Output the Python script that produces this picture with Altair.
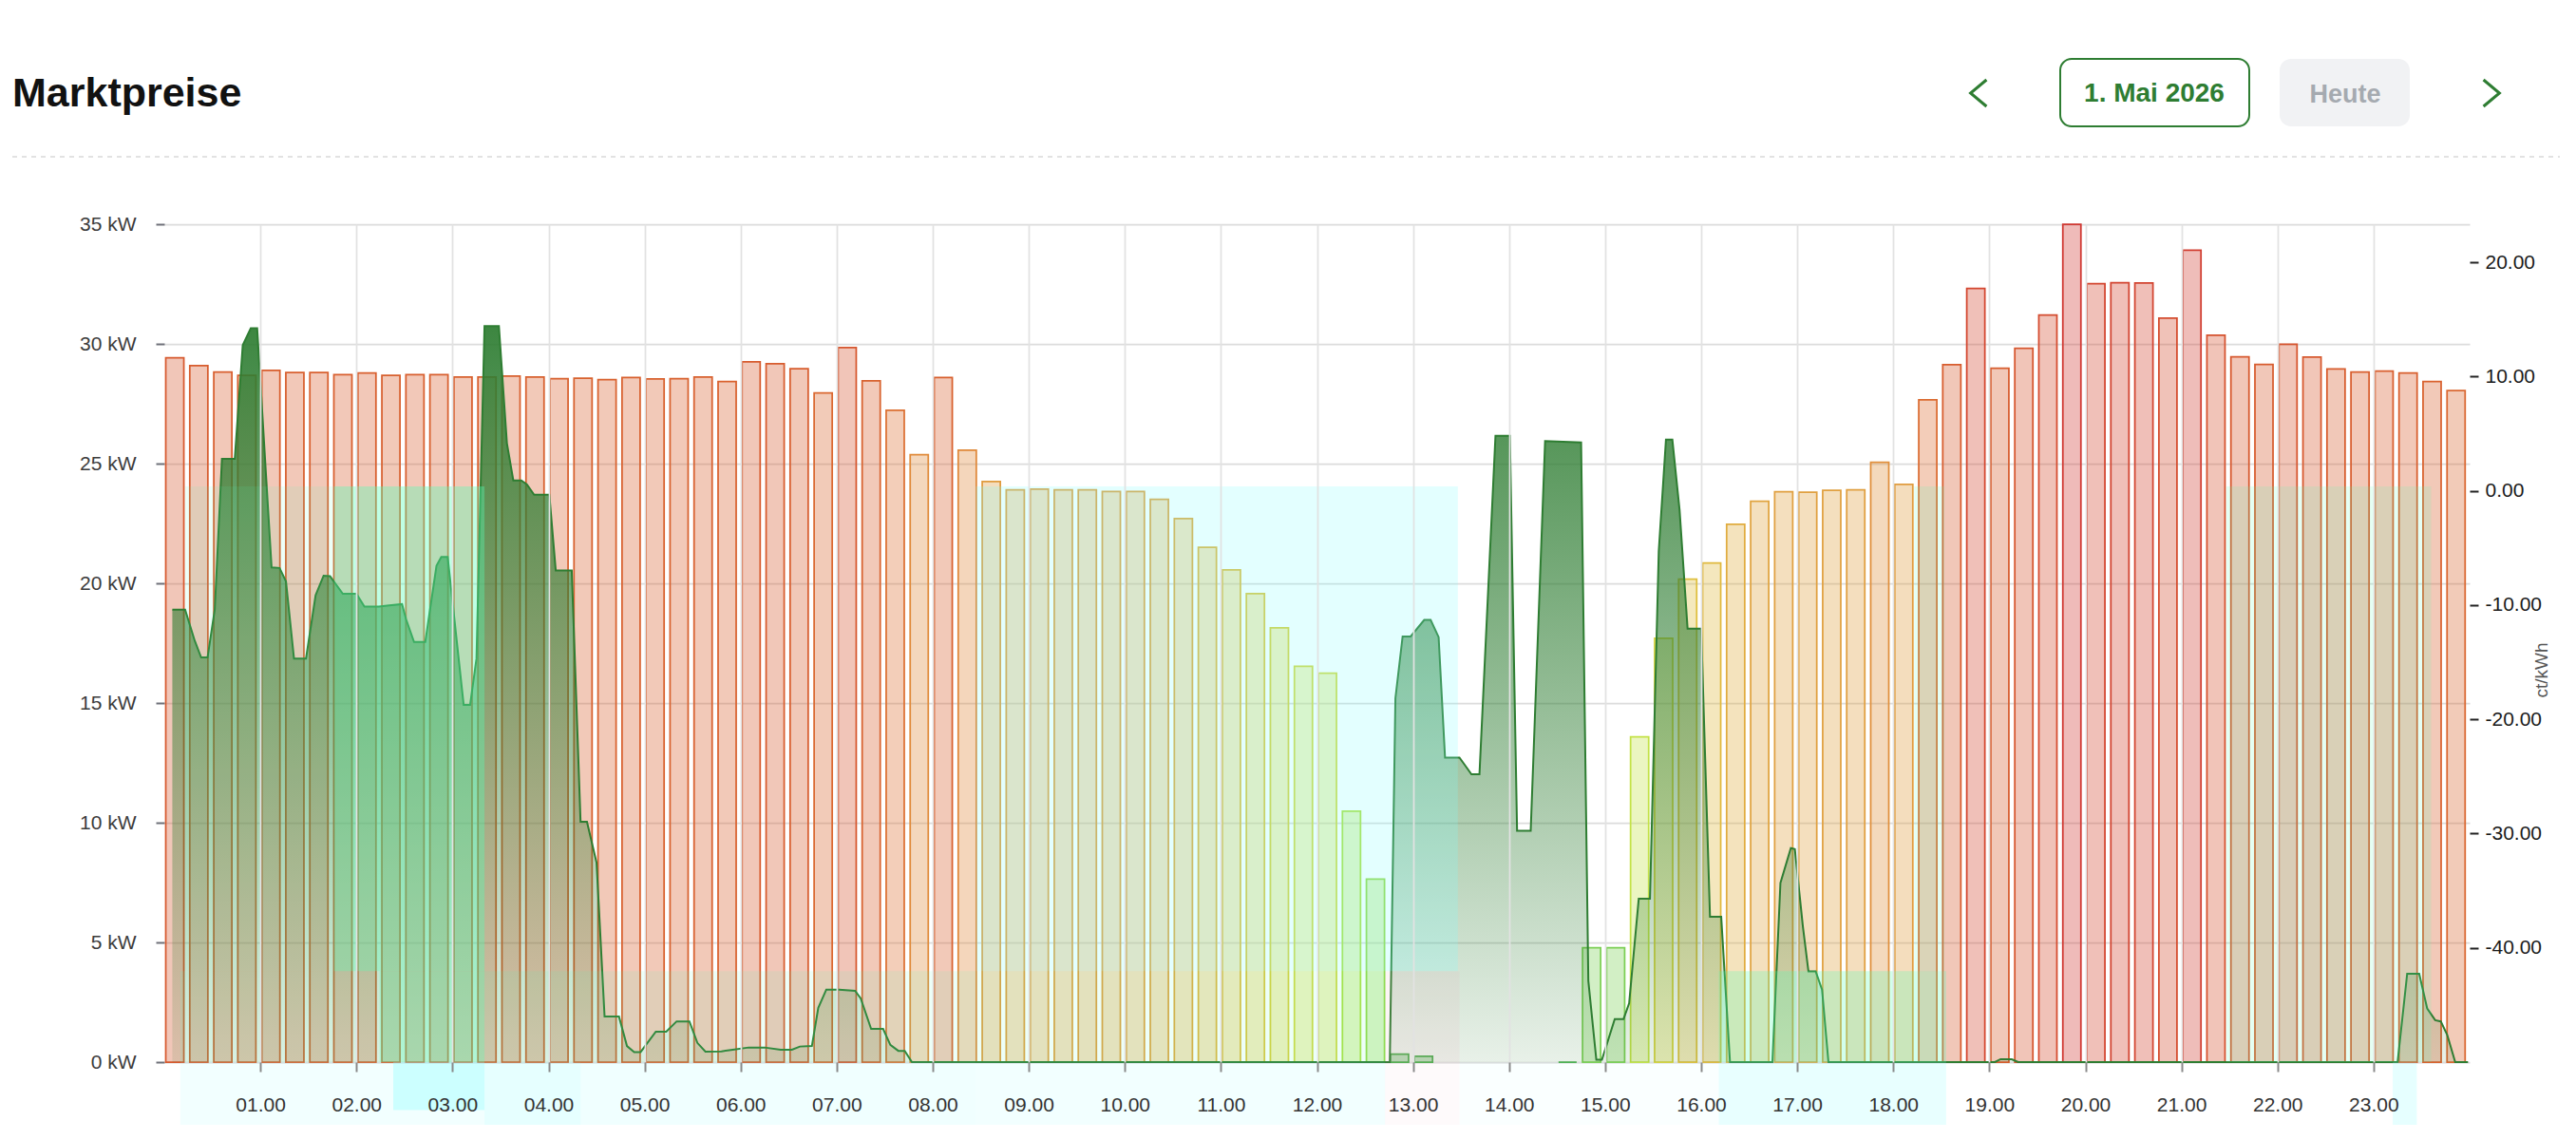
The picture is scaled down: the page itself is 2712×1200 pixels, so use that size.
import altair as alt
import pandas as pd

# ---------------- data ----------------
TITLE = "Marktpreise"
DATE_LABEL = "1. Mai 2026"
TODAY_LABEL = "Heute"

# quarter-hour market prices in ct/kWh (None = no visible bar)
prices = [11.65, 10.96, 10.40, 10.10, 10.54, 10.35, 10.35, 10.18,
          10.32, 10.10, 10.18, 10.18, 9.96, 9.96, 10.04, 9.96,
          9.82, 9.85, 9.74, 9.93, 9.79, 9.82, 9.96, 9.57,
          11.30, 11.12, 10.70, 8.56, 12.55, 9.63, 7.06, 3.17,
          9.93, 3.57, 0.82, 0.08, 0.15, 0.08, 0.08, -0.05,
          -0.05, -0.75, -2.43, -4.94, -6.92, -9.00, -11.98, -15.36,
          -15.96, -28.04, -33.99, -49.30, -49.50, None, None, None,
          None, None, -50.00, -40.00, -40.00, -21.54, -12.90, -7.73,
          -6.31, -2.93, -0.91, -0.08, -0.12, 0.04, 0.08, 2.50,
          0.56, 7.96, 11.04, 17.71, 10.73, 12.48, 15.39, 23.34,
          18.13, 18.21, 18.19, 15.11, 21.07, 13.62, 11.73, 11.07,
          12.84, 11.70, 10.68, 10.40, 10.48, 10.32, 9.57, 8.77]

# power curve (minutes after midnight, kW)
power_min = [5, 13, 19, 23, 27, 31.5, 36, 44, 49, 54, 58, 67, 72, 76, 81, 88.5,
             94.5, 99.5, 103.5, 111.5, 120, 125, 134, 140.5, 148.5, 151, 156, 163,
             170, 173, 177, 187, 191, 195, 200, 209, 214, 218, 223, 226.5, 231,
             240.5, 244.5, 254.5, 260, 264, 270, 275, 284, 289, 293.5, 297.5, 307,
             313.5, 320, 328, 333, 338, 348, 355, 365, 375, 385, 392, 397, 404.5,
             408.5, 413.5, 421.5, 431.5, 435, 441.5, 449, 453.5, 458.5, 462.5, 467,
             765.5, 769, 773.5, 778.5, 787, 791, 796, 800, 809, 811.5, 816.5, 821.5,
             831.5, 840.5, 845, 853.5, 862.5, 885, 889.5, 894.5, 898, 906, 911.5,
             915, 921, 928, 933.5, 938, 942, 946.5, 951.5, 960, 965.5, 972.5, 978,
             1004.5, 1009.5, 1016, 1018.5, 1023.5, 1027, 1031.5, 1035.5, 1039.5,
             1143.5, 1147, 1154, 1158, 1395, 1401, 1408.5, 1413.5, 1418.5, 1422,
             1426, 1431, 1439]
power_kw = [18.9, 18.9, 17.6, 16.9, 16.9, 18.9, 25.2, 25.2, 29.95, 30.65, 30.65, 20.66,
            20.64, 20.08, 16.86, 16.86, 19.5, 20.32, 20.3, 19.56, 19.56, 19.03, 19.03,
            19.08, 19.13, 18.5, 17.55, 17.55, 20.73, 21.1, 21.1, 14.92, 14.92, 16.86,
            30.74, 30.74, 25.85, 24.3, 24.3, 24.13, 23.7, 23.7, 20.54, 20.54, 10.04,
            10.04, 8.33, 1.9, 1.9, 0.67, 0.42, 0.42, 1.27, 1.27, 1.7, 1.7, 0.8, 0.44,
            0.45, 0.52, 0.61, 0.61, 0.52, 0.52, 0.65, 0.67, 2.27, 3.03, 3.03, 2.98,
            2.66, 1.39, 1.39, 0.72, 0.47, 0.47, 0, 0, 15.2, 17.78, 17.78, 18.47, 18.47,
            17.75, 12.72, 12.72, 12.49, 12.02, 12.02, 26.16, 26.16, 9.66, 9.66, 25.94,
            25.88, 3.4, 0.1, 0.1, 1.8, 1.8, 2.46, 6.83, 6.83, 21.35, 26.0, 26.0, 23.07,
            18.11, 18.11, 6.07, 6.07, 0, 0, 7.48, 8.94, 8.9, 5.68, 3.79, 3.79, 3.03, 0,
            0, 0.12, 0.12, 0, 0, 3.69, 3.69, 2.24, 1.75, 1.7, 1.14, 0, 0]

# highlighted time windows (minutes), band, tint, strength
win_start = [13, 106, 507, 1093, 1288, 10, 134.5, 200, 762.5, 971,
             10, 143, 200, 260, 507, 762.5, 809, 971, 1392]
win_end = [106, 200, 808, 1112, 1416, 134.5, 200, 762.5, 809, 1113,
           200, 200, 260, 507, 762.5, 809, 971, 1113, 1407]
win_band = ["upper", "upper", "upper", "upper", "full", "lower", "lower", "lower", "lower", "lower",
            "label", "labeltop", "label", "label", "label", "label", "label", "label", "label"]
win_tint = ["mint", "mint", "cyan", "mint", "mint", "mint", "mint", "mint", "pink", "mint",
            "cyan", "cyan", "cyan", "cyan", "cyan", "pink", "cyan", "cyan", "cyan"]
win_alpha = [0.1, 0.37, 0.22, 0.15, 0.15, 0.1, 0.37, 0.1, 0.1, 0.26,
             0.1, 0.33, 0.2, 0.12, 0.1, 0.05, 0.04, 0.18, 0.2]

kw_ticks = [0, 5, 10, 15, 20, 25, 30, 35]
ct_ticks = [-40, -30, -20, -10, 0, 10, 20]
hour_ticks = list(range(60, 1440, 60))

price_stops = [-50, -40, -30, -20, -12, -6, 0, 3, 7, 10, 15, 23.4]
price_colors = ["#4caf50", "#7ccf55", "#a6e040", "#c9e24a", "#d8d03c", "#e0b83e",
                "#e0a040", "#e08c3a", "#dc7032", "#d8602e", "#d44c2e", "#d03832"]

assert len(prices) == 96 and len(power_min) == len(power_kw)
assert len(win_start) == len(win_end) == len(win_band) == len(win_tint) == len(win_alpha)

# ---------------- tables ----------------
df_bars = pd.DataFrame({"slot": list(range(96)), "price": prices})
df_pow = pd.DataFrame({"t": power_min, "kw": power_kw})
band_top = {"upper": 24.05, "lower": 3.8, "full": 24.05, "label": 0, "labeltop": 0}
band_bot = {"upper": 3.8, "lower": 0, "full": 0, "label": -3.4, "labeltop": -2.0}
tint_col = {"mint": "#51ffb6", "cyan": "#81fffe", "pink": "#e8a0b0"}
df_win = pd.DataFrame({
    "s": win_start, "e": win_end,
    "top": [band_top[b] for b in win_band], "bot": [band_bot[b] for b in win_band],
    "col": [tint_col[c] for c in win_tint], "op": win_alpha,
})

FONT = "Liberation Sans"
GREEN = "#2e7d32"

x_scale = alt.Scale(domain=[0, 1440], nice=False, zero=False)
kw_scale = alt.Scale(domain=[0, 35], nice=False, zero=False)
ct_scale = alt.Scale(domain=[-50, 23.34], nice=False, zero=False)
c_scale = alt.Scale(domain=price_stops, range=price_colors, interpolate="rgb")

x_axis = alt.Axis(values=hour_ticks, title=None,
                  labelExpr="(datum.value < 600 ? '0' : '') + (datum.value / 60) + '.00'",
                  grid=True, gridColor="#e2e2e2", gridWidth=1.75, domain=False,
                  tickSize=10, tickColor="#8a8a8a", tickWidth=2, labelFontSize=21,
                  labelColor="#333333", labelPadding=24, labelFont=FONT, labelFlush=False,
                  zindex=1)
kw_axis = alt.Axis(orient="left", values=kw_ticks, title=None, labelExpr="datum.value + ' kW'",
                   grid=True, gridColor="#dcdcdc", gridWidth=1.75, domain=False,
                   tickSize=9, tickColor="#6e7079", tickWidth=2, labelFontSize=21,
                   labelColor="#3c3c3c", labelPadding=21, labelFont=FONT, labelFlush=False)
ct_axis = alt.Axis(orient="right", values=ct_ticks, title="ct/kWh",
                   labelExpr="replace(format(datum.value, '.2f'), '\u2212', '-')",
                   titleAngle=270, titleFontSize=19, titleFontWeight="normal", titleColor="#555555",
                   titleFont=FONT, titleX=75, titleY=469, titleAlign="center", titleBaseline="middle",
                   grid=False, domain=False,
                   tickSize=9, tickColor="#222222", tickWidth=2, labelFontSize=21,
                   labelColor="#1a1a1a", labelPadding=7, labelFont=FONT, labelFlush=False)

bars = alt.Chart(df_bars).transform_filter("isValid(datum.price)").transform_calculate(
    t0="datum.slot * 15 + 0.9", t1="datum.slot * 15 + 12.2", base="-50"
).mark_bar(fillOpacity=0.34, strokeWidth=1.75, strokeOpacity=1).encode(
    x=alt.X("t0:Q", scale=x_scale, axis=x_axis),
    x2="t1:Q",
    y=alt.Y("price:Q", scale=ct_scale, axis=ct_axis),
    y2="base:Q",
    fill=alt.Fill("price:Q", scale=c_scale, legend=None),
    stroke=alt.Stroke("price:Q", scale=c_scale, legend=None),
)

grad = alt.Gradient(gradient="linear",
                    stops=[alt.GradientStop(color="rgba(46,125,50,0.11)", offset=0),
                           alt.GradientStop(color="rgba(46,125,50,0.93)", offset=1)],
                    x1=0, x2=0, y1=1, y2=0)
area = alt.Chart(df_pow).mark_area(color=grad, interpolate="linear").encode(
    x=alt.X("t:Q", scale=x_scale, title=None),
    y=alt.Y("kw:Q", scale=kw_scale, axis=kw_axis),
)
line = alt.Chart(df_pow).mark_line(color=GREEN, strokeWidth=2, interpolate="linear").encode(
    x=alt.X("t:Q", scale=x_scale, title=None),
    y=alt.Y("kw:Q", scale=kw_scale, title=None),
)
windows = alt.Chart(df_win).mark_rect().encode(
    x=alt.X("s:Q", scale=x_scale, title=None),
    x2="e:Q",
    y=alt.Y("top:Q", scale=kw_scale, title=None),
    y2="bot:Q",
    color=alt.Color("col:N", scale=None),
    opacity=alt.Opacity("op:Q", scale=None),
)

# ---------------- header ----------------
one = pd.DataFrame({"k": [0]})
title = alt.Chart(pd.DataFrame({"label": [TITLE]})).mark_text(
    align="left", baseline="alphabetic", font=FONT, fontSize=43, fontWeight="bold", color="#111111"
).encode(x=alt.value(-160), y=alt.value(-124), text="label:N")
sep = alt.Chart(one).mark_rule(color="#d9d9d9", strokeWidth=1.5, strokeDash=[5, 5]).encode(
    x=alt.value(-160), x2=alt.value(2522), y=alt.value(-71))
date_box = alt.Chart(one).mark_rect(cornerRadius=12, fill="white", stroke=GREEN, strokeWidth=2).encode(
    x=alt.value(1996), x2=alt.value(2195), y=alt.value(-174), y2=alt.value(-103))
date_txt = alt.Chart(pd.DataFrame({"label": [DATE_LABEL]})).mark_text(
    align="center", baseline="alphabetic", font=FONT, fontSize=28, fontWeight="bold", color=GREEN
).encode(x=alt.value(2095), y=alt.value(-129), text="label:N")
today_box = alt.Chart(one).mark_rect(cornerRadius=12, fill="#f1f2f4").encode(
    x=alt.value(2227), x2=alt.value(2364), y=alt.value(-174), y2=alt.value(-103))
today_txt = alt.Chart(pd.DataFrame({"label": [TODAY_LABEL]})).mark_text(
    align="center", baseline="alphabetic", font=FONT, fontSize=27, fontWeight="bold", color="#a5aab0"
).encode(x=alt.value(2296), y=alt.value(-128), text="label:N")
prev_btn = alt.Chart(one).mark_point(shape="M0.6,-1L-0.6,0L0.6,1", filled=False, size=784,
                                     color=GREEN, strokeWidth=3, opacity=1).encode(
    x=alt.value(1910), y=alt.value(-138))
next_btn = alt.Chart(one).mark_point(shape="M-0.6,-1L0.6,0L-0.6,1", filled=False, size=784,
                                     color=GREEN, strokeWidth=3, opacity=1).encode(
    x=alt.value(2450), y=alt.value(-138))

inner = alt.layer(area, line, windows, title, sep, date_box, date_txt, today_box, today_txt,
                  prev_btn, next_btn)

chart = alt.layer(bars, inner).resolve_scale(y="independent").properties(
    width=2427, height=882,
    padding={"left": 165, "top": 228, "right": 100, "bottom": 66},
    autosize=alt.AutoSizeParams(type="none"),
    background="white",
).configure_view(stroke=None)

chart.save("out.html", embed_options={"renderer": "svg", "actions": False})
